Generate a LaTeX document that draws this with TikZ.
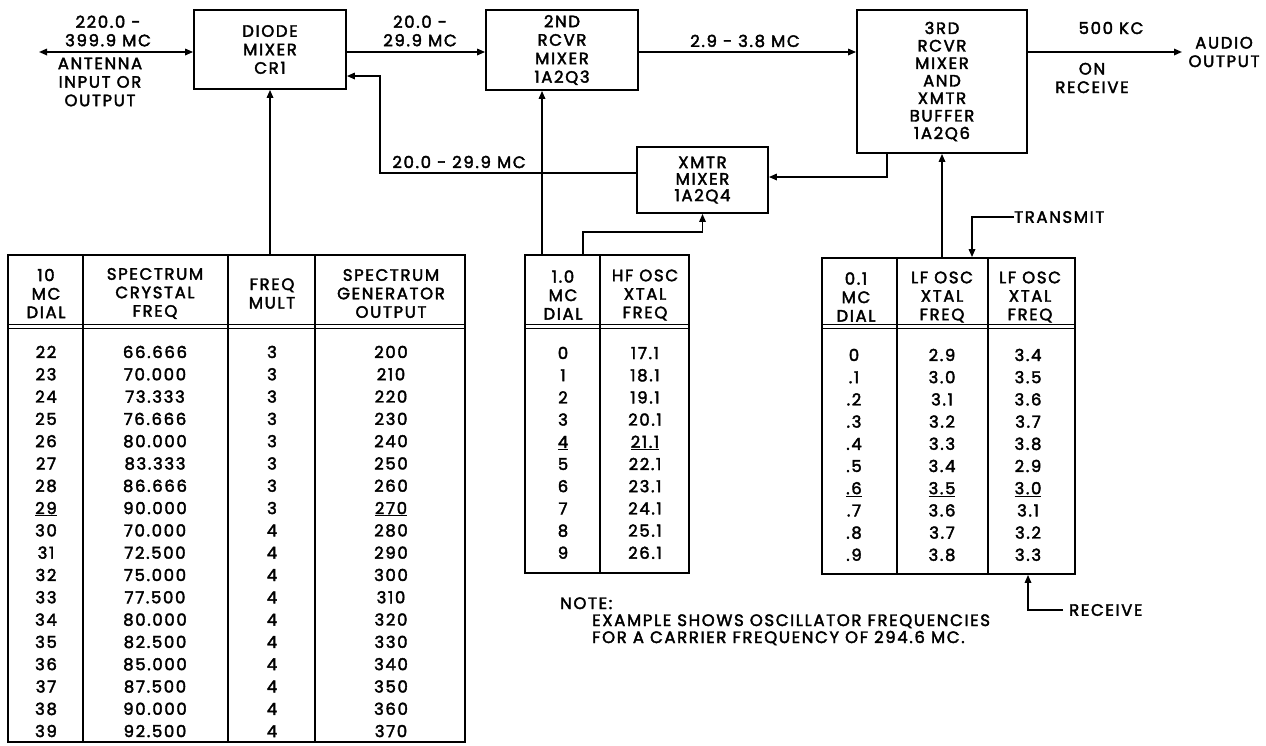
\documentclass[tikz,border=0pt]{standalone}
\usepackage{fontspec}
\setmainfont{Poppins}[FakeBold=2.4,LetterSpace=10]
\usetikzlibrary{arrows.meta}
\begin{document}
\begin{tikzpicture}[x=1pt,y=-1pt,
  every node/.style={font=\fontsize{16.5}{18.5}\selectfont, inner sep=0pt, align=center},
  blk/.style={draw, line width=1.8pt, inner sep=0pt},
  conn/.style={line width=1.6pt},
  tip/.tip={Triangle[length=8pt,width=6.5pt]},
  arr/.style={conn, -tip},
  dbl/.style={conn, tip-tip},
  tline/.style={line width=1.8pt},
  cell/.style={anchor=base},
]
\useasboundingbox (0,0) rectangle (1266,745);

% blocks
\node[blk, minimum width=152pt, minimum height=79pt] (diode) at (270,49.5) {DIODE\\MIXER\\CR1};
\node[blk, minimum width=152pt, minimum height=80pt] (rcvr2) at (562,50) {2ND\\RCVR\\MIXER\\1A2Q3};
\node[blk, minimum width=131pt, minimum height=66pt, font=\fontsize{16.5}{16.5}\selectfont] (xmtr) at (702.5,180) {XMTR\\MIXER\\1A2Q4};
\node[blk, minimum width=170pt, minimum height=143pt, font=\fontsize{16.5}{17.5}\selectfont] (rcvr3) at (942,81.5) {3RD\\RCVR\\MIXER\\AND\\XMTR\\BUFFER\\1A2Q6};

% tables
\node[blk, minimum width=457pt, minimum height=487pt] (spec) at (236.5,498.5) {};
\node[blk, minimum width=164pt, minimum height=318pt] (hf) at (607,414) {};
\node[blk, minimum width=253pt, minimum height=316pt] (lf) at (948.5,416) {};

% spectrum table lines
\draw[tline] (83,255) -- (83,742);
\draw[tline] (228,255) -- (228,742);
\draw[tline] (315,255) -- (315,742);
\draw[tline] (8,324.5) -- (465,324.5);
\draw[line width=1.3pt] (8,328.5) -- (465,328.5);
% hf table lines
\draw[tline] (600,255) -- (600,573);
\draw[tline] (525,324.5) -- (689,324.5);
\draw[line width=1.3pt] (525,328.5) -- (689,328.5);
% lf table lines
\draw[tline] (897,258) -- (897,574);
\draw[tline] (988,258) -- (988,574);
\draw[tline] (822,324.5) -- (1075,324.5);
\draw[line width=1.3pt] (822,328.5) -- (1075,328.5);

% headers
\node (sh0) at (46,293.5) {10\\MC\\DIAL};
\node (sh1) at (155,293.5) {SPECTRUM\\CRYSTAL\\FREQ};
\node (sh2) at (272,293.5) {FREQ\\MULT};
\node (sh3) at (391,293.5) {SPECTRUM\\GENERATOR\\OUTPUT};
\node (hh0) at (563,295) {1.0\\MC\\DIAL};
\node (hh1) at (645,295) {HF OSC\\XTAL\\FREQ};
\node (lh0) at (856,297) {0.1\\MC\\DIAL};
\node (lh1) at (942,297) {LF OSC\\XTAL\\FREQ};
\node (lh2) at (1030,297) {LF OSC\\XTAL\\FREQ};

% spectrum rows
\foreach \d/\c/\m/\o [count=\i from 0] in {22/66.666/3/200, 23/70.000/3/210, 24/73.333/3/220, 25/76.666/3/230, 26/80.000/3/240, 27/83.333/3/250, 28/86.666/3/260, {\underline{29}}/90.000/3/{\underline{270}}, 30/70.000/4/280, 31/72.500/4/290, 32/75.000/4/300, 33/77.500/4/310, 34/80.000/4/320, 35/82.500/4/330, 36/85.000/4/340, 37/87.500/4/350, 38/90.000/4/360, 39/92.500/4/370} {
  \node[cell] (sa\i) at (46,358+22.3*\i) {\d};
  \node[cell] (sb\i) at (155,358+22.3*\i) {\c};
  \node[cell] (sc\i) at (272,358+22.3*\i) {\m};
  \node[cell] (sd\i) at (391,358+22.3*\i) {\o};
}
% hf rows
\foreach \d/\f [count=\i from 0] in {0/17.1, 1/18.1, 2/19.1, 3/20.1, {\underline{4}}/{\underline{21.1}}, 5/22.1, 6/23.1, 7/24.1, 8/25.1, 9/26.1} {
  \node[cell] (ha\i) at (563,359+22.2*\i) {\d};
  \node[cell] (hb\i) at (645,359+22.2*\i) {\f};
}
% lf rows
\foreach \d/\f/\g [count=\i from 0] in {0/2.9/3.4, .1/3.0/3.5, .2/3.1/3.6, .3/3.2/3.7, .4/3.3/3.8, .5/3.4/2.9, {\underline{.6}}/{\underline{3.5}}/{\underline{3.0}}, .7/3.6/3.1, .8/3.7/3.2, .9/3.8/3.3} {
  \node[cell] (la\i) at (854,361+22.2*\i) {\d};
  \node[cell] (lb\i) at (942,361+22.2*\i) {\f};
  \node[cell] (lc\i) at (1028,361+22.2*\i) {\g};
}

% labels
\node (l1) at (108,31) {220.0 -\\399.9 MC};
\node (l2) at (100,82) {ANTENNA\\INPUT OR\\OUTPUT};
\node (l3) at (420,31) {20.0 -\\29.9 MC};
\node (l4) at (745,41) {2.9 - 3.8 MC};
\node (l5) at (459,162) {20.0 - 29.9 MC};
\node (l6) at (1111,28) {500 KC};
\node (l7) at (1092,78) {ON\\RECEIVE};
\node (l8) at (1224,52) {AUDIO\\OUTPUT};
\node[anchor=west] (tx) at (1014,217) {TRANSMIT};
\node[anchor=west] (rx) at (1069,610) {RECEIVE};
\node[anchor=base west] (note) at (560,609) {NOTE:};
\node[anchor=base west] (note1) at (592,626) {EXAMPLE SHOWS OSCILLATOR FREQUENCIES};
\node[anchor=base west] (note2) at (592,643) {FOR A CARRIER FREQUENCY OF 294.6 MC.};

% connectors
\coordinate (ant) at (39,52);
\coordinate (aud) at (1182,52);
\draw[dbl] (ant) -- (diode.west |- ant);
\draw[arr] (diode.east |- ant) -- (rcvr2.west |- ant);
\draw[arr] (rcvr2.east |- ant) -- (rcvr3.west |- ant);
\draw[arr] (rcvr3.east |- aud) -- (aud);
\draw[arr] (diode.south |- spec.north) -- (diode.south);

\coordinate (h1) at (542,255);
\draw[arr] (h1) -- (h1 |- rcvr2.south);
\coordinate (h2) at (583,232);
\draw[arr] (h2 |- hf.north) -- (h2) -- (xmtr.south |- h2) -- (xmtr.south);

\coordinate (fb) at (380,173);
\coordinate (fbt) at (380,76);
\draw[arr] (xmtr.west |- fb) -- (fb) -- (fbt) -- (diode.east |- fbt);

\coordinate (b3) at (887,177);
\draw[arr] (b3 |- rcvr3.south) -- (b3) -- (xmtr.east |- b3);

\draw[arr] (rcvr3.south |- lf.north) -- (rcvr3.south);

\coordinate (tk) at (972,217);
\draw[arr] (tx.west) -- (tk) -- (tk |- lf.north);
\coordinate (rk) at (1028,610);
\draw[arr, shorten <=6pt] (rx.west) -- (rk) -- (rk |- lf.south);
\end{tikzpicture}
\end{document}
